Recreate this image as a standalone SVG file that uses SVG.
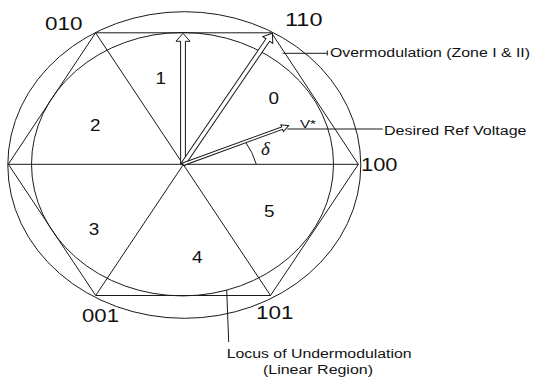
<svg xmlns="http://www.w3.org/2000/svg" width="534" height="378" viewBox="0 0 534 378">
<style>
.ln{fill:none;stroke:#1a1a1a;stroke-width:1}
.arr{fill:#fff;stroke:#1a1a1a;stroke-width:1;stroke-linejoin:miter}
.t{font-family:"Liberation Sans",Arial,sans-serif;fill:#111}
.v{font-size:17.5px}
.n{font-size:16px}
.a{font-size:12.5px}
</style>
<rect width="534" height="378" fill="#fff"/>
<g id="circles">
<ellipse class="ln" cx="184.3" cy="165" rx="176.5" ry="153.3"/>
<ellipse class="ln" cx="182.5" cy="164.2" rx="151" ry="131.7"/>
</g>
<g id="hexagon">
<polygon class="ln" points="8.3,164.2 95.6,32.8 271.5,32.8 358.3,164.4 270.5,295.5 95.7,295.5"/>
</g>
<g id="connectors">
<line class="ln" x1="8.3" y1="164.3" x2="358.3" y2="164.3"/>
<line class="ln" x1="95.6" y1="32.8" x2="270.5" y2="295.5"/>
<line class="ln" x1="271.5" y1="32.8" x2="95.7" y2="295.5"/>
<path class="ln" d="M256.3,164.3 A72,72 0 0 0 245.5,142"/>
<polyline class="ln" points="282.7,53.3 327.3,53.3"/>
<line class="ln" x1="327.3" y1="50.5" x2="327.3" y2="55.5"/>
<line class="ln" x1="287.3" y1="129" x2="382.7" y2="129"/>
<line class="ln" x1="226.7" y1="290" x2="228.7" y2="342"/>
</g>
<g id="vectors">
<polygon id="vec-010" class="arr" transform="translate(183,164.3) rotate(-90)" points="0,-2.4 123,-2.4 123,-7 131,0 123,7 123,2.4 0,2.4"/>
<polygon id="vec-110" class="arr" transform="translate(183,164.3) rotate(-55.7)" points="0,-2.2 150.5,-2.2 150.5,-6 158.6,0 150.5,6 150.5,2.2 0,2.2"/>
<polygon id="vec-vstar" class="arr" transform="translate(183,164.3) rotate(-20.06)" points="0,-1.3 105.5,-1.3 105.5,-3.6 112.5,0 105.5,3.6 105.5,1.3 0,1.3"/>
</g>
<g id="vertex-labels">
<text class="t v" x="45" y="30" textLength="37.5" lengthAdjust="spacingAndGlyphs">010</text>
<text class="t v" x="285" y="26" textLength="37.5" lengthAdjust="spacingAndGlyphs">110</text>
<text class="t v" x="361" y="170.7" textLength="36.5" lengthAdjust="spacingAndGlyphs">100</text>
<text class="t v" x="82" y="321.7" textLength="37" lengthAdjust="spacingAndGlyphs">001</text>
<text class="t v" x="256" y="319" textLength="37.5" lengthAdjust="spacingAndGlyphs">101</text>
</g>
<g id="sector-labels">
<text class="t n" x="155.5" y="84.3" textLength="10.5" lengthAdjust="spacingAndGlyphs">1</text>
<text class="t n" x="268.6" y="104" textLength="10.5" lengthAdjust="spacingAndGlyphs">0</text>
<text class="t n" x="90" y="131" textLength="10.5" lengthAdjust="spacingAndGlyphs">2</text>
<text class="t n" x="88.8" y="235.3" textLength="10.5" lengthAdjust="spacingAndGlyphs">3</text>
<text class="t n" x="192" y="263.3" textLength="10.5" lengthAdjust="spacingAndGlyphs">4</text>
<text class="t n" x="264" y="217.3" textLength="10.5" lengthAdjust="spacingAndGlyphs">5</text>
</g>
<g id="annotations">
<text class="t" x="300" y="128.3" font-size="11.5" textLength="16" lengthAdjust="spacingAndGlyphs">V*</text>
<text x="261" y="154.5" font-family="'Liberation Serif','Times New Roman',serif" font-style="italic" font-size="19" fill="#111">δ</text>
<text class="t a" x="330" y="57.3" textLength="200" lengthAdjust="spacingAndGlyphs">Overmodulation (Zone I &amp; II)</text>
<text class="t a" x="384" y="135" textLength="142.5" lengthAdjust="spacingAndGlyphs">Desired Ref Voltage</text>
<text class="t a" x="226.7" y="358" textLength="185" lengthAdjust="spacingAndGlyphs">Locus of Undermodulation</text>
<text class="t a" x="263" y="374" textLength="110" lengthAdjust="spacingAndGlyphs">(Linear Region)</text>
</g>
</svg>
